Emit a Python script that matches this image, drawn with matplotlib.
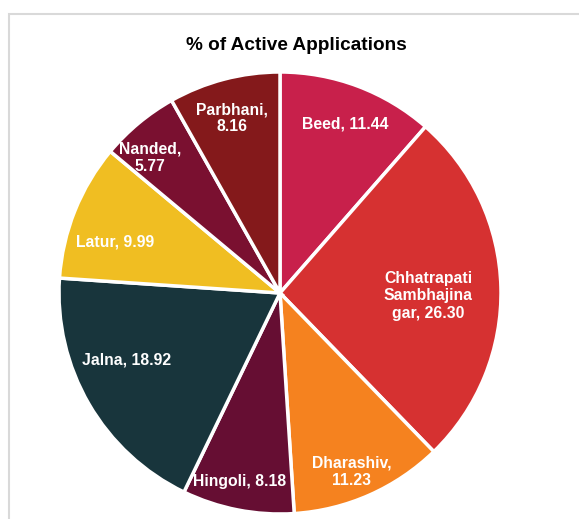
import matplotlib.pyplot as plt
import numpy as np
from matplotlib.patches import Rectangle

districts = ['Beed', 'Chhatrapati Sambhajinagar', 'Dharashiv', 'Hingoli',
             'Jalna', 'Latur', 'Nanded', 'Parbhani']
share = [11.44, 26.30, 11.23, 8.18, 18.92, 9.99, 5.77, 8.16]
labels = ['Beed, 11.44', 'Chhatrapati\nSambhajina\ngar, 26.30', 'Dharashiv,\n11.23',
          'Hingoli, 8.18', 'Jalna, 18.92', 'Latur, 9.99', 'Nanded,\n5.77', 'Parbhani,\n8.16']
colors = ['#C8204B', '#D63131', '#F5821F', '#660E33',
          '#18353C', '#F0BE22', '#7A1030', '#84191B']
# label placement: fraction of radius, and angle nudge in degrees
lab_r = [0.82, 0.67, 0.87, 0.87, 0.76, 0.78, 0.85, 0.82]
lab_nudge = [-0.5, -2.5, -2, -1, -6.5, 4.5, 4.0, 0.7]

plt.rcParams['font.family'] = ['Liberation Sans', 'DejaVu Sans']

W, H = 579, 519
fig = plt.figure(figsize=(W / 100, H / 100), dpi=100)

# light frame around the chart (runs off right/bottom)
fig.patches.append(Rectangle((9 / W, -0.1), 1.2, (H - 14) / H + 0.1,
                             transform=fig.transFigure, fill=False,
                             edgecolor='#d9d9d9', linewidth=1.5))

cx, cy, R = 280, 293, 221
ax = fig.add_axes([(cx - R) / W, (H - cy - R) / H, 2 * R / W, 2 * R / H])
wedges, _ = ax.pie(share, colors=colors, startangle=90, counterclock=False,
                   radius=1, wedgeprops=dict(edgecolor='white', linewidth=2.5))
ax.set_xlim(-1, 1)
ax.set_ylim(-1, 1)
ax.axis('off')

for w, lab, r, nd in zip(wedges, labels, lab_r, lab_nudge):
    ang = np.deg2rad((w.theta1 + w.theta2) / 2 + nd)
    ax.text(r * np.cos(ang), r * np.sin(ang), lab, ha='center', va='center',
            color='white', fontsize=11.3, fontweight='bold', linespacing=1.2)

fig.text(296 / W, 1 - 45 / H, '% of Active Applications', ha='center', va='center',
         fontsize=13.7, fontweight='bold')

plt.savefig('out.png', dpi=100)
